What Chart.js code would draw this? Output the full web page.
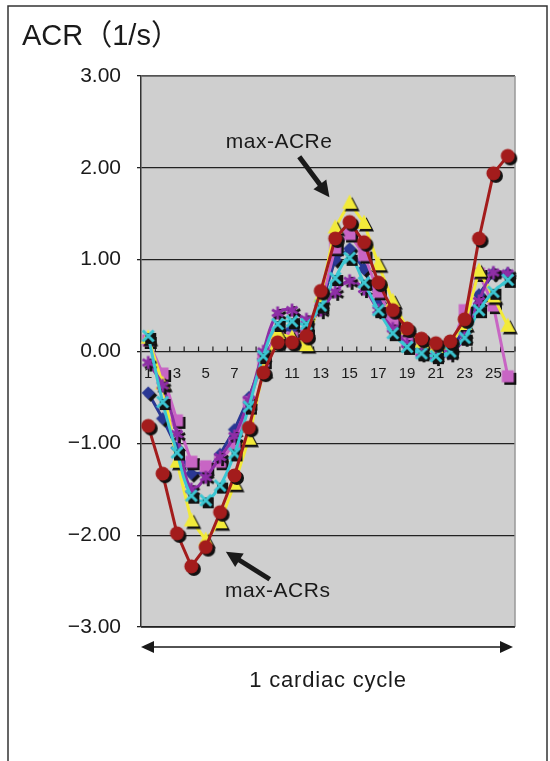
<!DOCTYPE html>
<html>
<head>
<meta charset="utf-8">
<script src="https://cdn.jsdelivr.net/npm/chart.js@4/dist/chart.umd.min.js"></script>
<style>
  html, body { margin: 0; padding: 0; background: #fff; }
  canvas { display: block; }
</style>
</head>
<body>
<canvas id="chart" width="550" height="761"></canvas>
<script>
// frame index along one cardiac cycle
const categories = ['1','2','3','4','5','6','7','8','9','10','11','12','13','14','15','16','17','18','19','20','21','22','23','24','25','26'];

// ACR values (1/s)
const redSeries    = [-0.81,-1.33,-1.98,-2.34,-2.13,-1.75,-1.35,-0.83,-0.23,0.10,0.10,0.17,0.66,1.23,1.41,1.19,0.75,0.45,0.25,0.14,0.09,0.11,0.35,1.23,1.94,2.13];
const yellowSeries = [0.15,-0.35,-1.20,-1.84,-2.05,-1.86,-1.44,-0.95,-0.20,0.20,0.15,0.07,0.60,1.35,1.62,1.40,0.95,0.55,0.25,0.10,0.05,0.08,0.30,0.88,0.60,0.28];
const pinkSeries   = [0.12,-0.24,-0.75,-1.20,-1.25,-1.20,-1.00,-0.55,-0.10,0.20,0.15,0.20,0.50,1.13,1.28,1.05,0.65,0.35,0.12,0.02,-0.02,0.02,0.45,0.85,0.50,-0.27];
const blueSeries   = [-0.45,-0.73,-1.05,-1.33,-1.32,-1.12,-0.85,-0.50,-0.08,0.20,0.25,0.20,0.50,1.00,1.12,0.90,0.55,0.30,0.10,0.00,-0.03,0.00,0.25,0.62,0.85,0.85];
const cyanSeries   = [0.17,-0.55,-1.10,-1.57,-1.62,-1.46,-1.11,-0.60,-0.05,0.30,0.33,0.30,0.50,0.80,1.02,0.75,0.45,0.20,0.05,-0.02,-0.05,0.00,0.15,0.45,0.65,0.78];
const purpleSeries = [-0.12,-0.37,-0.90,-1.50,-1.37,-1.15,-0.92,-0.53,0.00,0.42,0.45,0.35,0.45,0.65,0.77,0.68,0.45,0.25,0.08,-0.02,-0.06,-0.02,0.15,0.55,0.86,0.85];

const yTicks = [-3, -2, -1, 0, 1, 2, 3];

// markers with the black drop shadow seen in the figure
function shapePath(ctx, shape, r) {
  ctx.beginPath();
  if (shape === 'circle') {
    ctx.arc(0, 0, r, 0, Math.PI * 2);
    ctx.fill();
  } else if (shape === 'triangle') {
    ctx.moveTo(0, -r * 1.1);
    ctx.lineTo(r, r * 0.8);
    ctx.lineTo(-r, r * 0.8);
    ctx.closePath();
    ctx.fill();
  } else if (shape === 'square') {
    ctx.rect(-r, -r, 2 * r, 2 * r);
    ctx.fill();
  } else if (shape === 'diamond') {
    ctx.moveTo(0, -r * 1.2);
    ctx.lineTo(r * 1.2, 0);
    ctx.lineTo(0, r * 1.2);
    ctx.lineTo(-r * 1.2, 0);
    ctx.closePath();
    ctx.fill();
  } else if (shape === 'cross') {
    ctx.lineWidth = 3;
    ctx.moveTo(-r, -r); ctx.lineTo(r, r);
    ctx.moveTo(r, -r); ctx.lineTo(-r, r);
    ctx.stroke();
  } else if (shape === 'star') {
    ctx.lineWidth = 2.8;
    for (let k = 0; k < 3; k++) {
      const a = Math.PI / 2 + k * Math.PI / 3;
      ctx.moveTo(Math.cos(a) * r, Math.sin(a) * r);
      ctx.lineTo(-Math.cos(a) * r, -Math.sin(a) * r);
    }
    ctx.stroke();
  }
}

function marker(shape, color, size, shadow) {
  const off = 2.5, pad = 4;
  const s = Math.ceil(size + 2 * (off + pad));
  const c = document.createElement('canvas');
  c.width = s; c.height = s;
  const ctx = c.getContext('2d');
  const draw = (d, fill, sh) => {
    ctx.save();
    ctx.translate(s / 2 + d, s / 2 + d);
    ctx.fillStyle = fill;
    ctx.strokeStyle = fill;
    shapePath(ctx, sh, size / 2);
    ctx.restore();
  };
  draw(off, '#111', shadow);
  draw(0, color, shape);
  return c;
}

function series(data, color, shape, shadow, size, tension) {
  return {
    data,
    borderColor: color,
    backgroundColor: color,
    borderWidth: 3,
    tension,
    pointStyle: marker(shape, color, size, shadow),
    pointRadius: 7
  };
}

const annotations = [
  { text: 'max-ACRe', at: [9.1, 2.28], from: [10.5, 2.12], to: [12.6, 1.68] },
  { text: 'max-ACRs', at: [9.0, -2.61], from: [8.45, -2.48], to: [5.4, -2.18] }
];

function arrow(ctx, x1, y1, x2, y2, w, head, hw) {
  const a = Math.atan2(y2 - y1, x2 - x1);
  ctx.save();
  ctx.strokeStyle = '#1a1a1a';
  ctx.fillStyle = '#1a1a1a';
  ctx.lineWidth = w;
  ctx.beginPath();
  ctx.moveTo(x1, y1);
  ctx.lineTo(x2 - Math.cos(a) * head * 0.8, y2 - Math.sin(a) * head * 0.8);
  ctx.stroke();
  ctx.translate(x2, y2);
  ctx.rotate(a);
  ctx.beginPath();
  ctx.moveTo(0, 0);
  ctx.lineTo(-head, -hw / 2);
  ctx.lineTo(-head, hw / 2);
  ctx.closePath();
  ctx.fill();
  ctx.restore();
}

const decor = {
  id: 'decor',
  beforeDraw(chart) {
    const { ctx, chartArea: a } = chart;
    ctx.save();
    ctx.fillStyle = '#fff';
    ctx.fillRect(0, 0, chart.width, chart.height);
    ctx.fillStyle = '#cfcfcf';
    ctx.fillRect(a.left, a.top, a.right - a.left, a.bottom - a.top);
    ctx.restore();
  },
  beforeDatasetsDraw(chart) {
    const { ctx, chartArea: a, scales } = chart;
    ctx.save();
    // plot frame
    ctx.lineWidth = 1.5;
    ctx.strokeStyle = '#666';
    ctx.beginPath(); ctx.moveTo(a.left, a.top); ctx.lineTo(a.right, a.top); ctx.stroke();
    ctx.strokeStyle = '#999';
    ctx.beginPath(); ctx.moveTo(a.right, a.top); ctx.lineTo(a.right, a.bottom); ctx.stroke();
    ctx.strokeStyle = '#222';
    ctx.beginPath(); ctx.moveTo(a.left, a.bottom); ctx.lineTo(a.right, a.bottom); ctx.stroke();
    // small ticks on the zero line, between categories
    const y0 = scales.y.getPixelForValue(0);
    ctx.strokeStyle = '#222';
    ctx.lineWidth = 1.2;
    for (let i = 0; i < categories.length; i++) {
      const x = scales.x.getPixelForValue(i + 0.5);
      ctx.beginPath(); ctx.moveTo(x, y0); ctx.lineTo(x, y0 - 5); ctx.stroke();
    }
    ctx.restore();
  },
  afterDraw(chart) {
    const { ctx, chartArea: a, scales } = chart;
    const px = v => scales.x.getPixelForValue(v[0]);
    const py = v => scales.y.getPixelForValue(v[1]);
    ctx.save();
    // outer figure border
    ctx.strokeStyle = '#333';
    ctx.lineWidth = 1.5;
    ctx.strokeRect(8, 6, 539, 800);

    // title
    ctx.fillStyle = '#1a1a1a';
    ctx.textAlign = 'left';
    ctx.textBaseline = 'alphabetic';
    ctx.font = '29px "Liberation Sans", "Noto Sans CJK JP", sans-serif';
    ctx.fillText('ACR（1/s）', 22, 45);

    // annotations
    ctx.font = '21px "Liberation Sans", sans-serif';
    ctx.textAlign = 'center';
    ctx.textBaseline = 'middle';
    ctx.letterSpacing = '0.5px';
    annotations.forEach(n => {
      ctx.fillStyle = '#1a1a1a';
      ctx.fillText(n.text, px(n.at), py(n.at));
      arrow(ctx, px(n.from), py(n.from), px(n.to), py(n.to), 5, 16, 16);
    });

    // cardiac cycle span
    const yArr = a.bottom + 20;
    ctx.strokeStyle = '#1a1a1a';
    ctx.fillStyle = '#1a1a1a';
    ctx.lineWidth = 1.6;
    ctx.beginPath();
    ctx.moveTo(a.left + 8, yArr); ctx.lineTo(a.right - 8, yArr); ctx.stroke();
    [[a.left, 1], [a.right - 2, -1]].forEach(([x, d]) => {
      ctx.beginPath();
      ctx.moveTo(x, yArr);
      ctx.lineTo(x + d * 13, yArr - 6);
      ctx.lineTo(x + d * 13, yArr + 6);
      ctx.closePath();
      ctx.fill();
    });
    ctx.font = '22px "Liberation Sans", sans-serif';
    ctx.letterSpacing = '0.8px';
    ctx.fillText('1 cardiac cycle', (a.left + a.right) / 2, a.bottom + 54);
    ctx.restore();
  }
};

new Chart(document.getElementById('chart'), {
  type: 'line',
  data: {
    labels: categories,
    datasets: [
      series(redSeries, '#a31c1c', 'circle', 'circle', 14, 0),
      series(cyanSeries, '#3cc6d2', 'cross', 'square', 11, 0.4),
      series(purpleSeries, '#8e2ea6', 'star', 'star', 13, 0.4),
      series(yellowSeries, '#f2ea3a', 'triangle', 'triangle', 15, 0),
      series(pinkSeries, '#c865c4', 'square', 'square', 12, 0),
      series(blueSeries, '#2a3894', 'diamond', 'diamond', 11, 0)
    ]
  },
  options: {
    responsive: false,
    animation: false,
    events: [],
    layout: { padding: { left: 0, right: 35, top: 76, bottom: 134 } },
    plugins: { legend: { display: false }, tooltip: { enabled: false } },
    scales: {
      x: {
        position: { y: 0 },
        offset: true,
        grid: { display: false, drawTicks: false },
        border: { display: false },
        ticks: {
          autoSkip: false,
          maxRotation: 0,
          padding: 13,
          color: '#1a1a1a',
          font: { family: 'Liberation Sans', size: 15 },
          callback: (v, i) => (i % 2 === 0 ? categories[i] : '')
        }
      },
      y: {
        min: yTicks[0],
        max: yTicks[yTicks.length - 1],
        afterBuildTicks: s => { s.ticks = yTicks.map(v => ({ value: v })); },
        afterFit: s => { s.width = 141; },
        ticks: {
          padding: 16,
          color: '#1a1a1a',
          font: { family: 'Liberation Sans', size: 21 },
          callback: v => (v < 0 ? '\u2212' : '') + Math.abs(v).toFixed(2)
        },
        grid: { color: '#222', lineWidth: 1.3, tickLength: 4 },
        border: { display: true, color: '#333', width: 1.5 }
      }
    }
  },
  plugins: [decor]
});
</script>
</body>
</html>
